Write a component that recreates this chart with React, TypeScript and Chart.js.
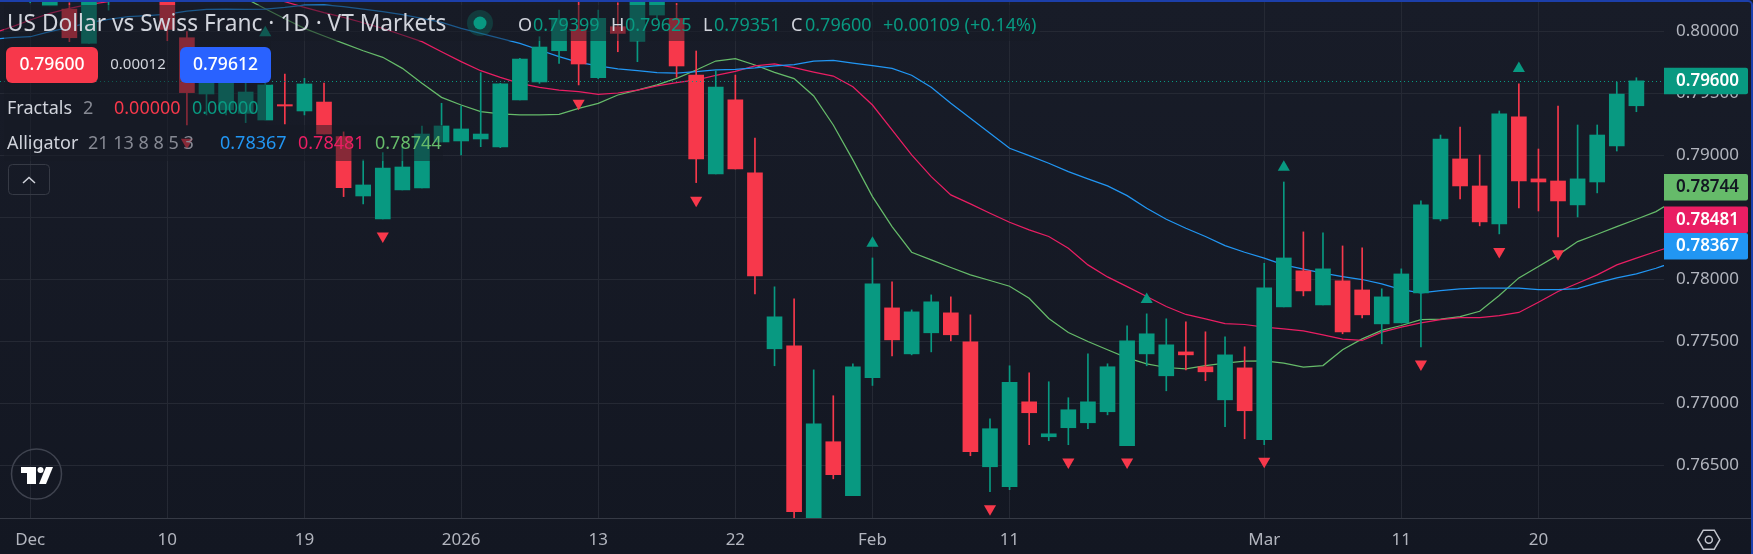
import React, { useEffect, useRef } from "react";
import { Chart, registerables } from "chart.js";

Chart.register(...registerables);

const firstBar = 0;
const opens = [.80279,.80206,.80179,.79903,.80319,.80400,.80400,.80273,.79948,.79494,.79365,.79338,.79284,.79408,.79357,.79429,.79150,.78671,.78486,.78720,.78736,.79107,.79115,.79131,.79067,.79446,.79591,.79843,.80015,.79626,.80037,.79921,.80131,.80104,.79647,.78849,.79446,.78857,.77438,.77462,.76000,.76688,.76252,.77204,.77768,.77397,.77567,.77728,.77494,.76486,.76325,.77010,.76728,.76801,.76841,.76930,.76656,.77397,.77220,.77413,.77293,.77026,.77284,.76704,.77776,.78067,.77792,.77986,.77913,.77639,.77647,.77889,.78486,.78970,.78752,.78446,.79309,.78809,.78792,.78599,.78784,.79075,.79399];
const closes = [.80413,.80333,.79948,.80265,.80400,.80500,.80500,.80015,.79505,.79593,.79580,.79510,.79567,.79397,.79575,.79171,.78739,.78760,.78897,.78905,.79171,.79236,.79212,.79171,.79575,.79776,.79873,.80104,.79736,.80104,.79983,.80265,.80265,.79720,.78970,.79550,.78889,.78026,.77696,.76123,.76833,.76422,.77293,.77962,.77510,.77736,.77817,.77551,.76607,.76793,.77167,.76922,.76752,.76946,.77010,.77293,.77502,.77559,.77470,.77389,.77252,.77389,.76938,.77930,.78171,.77905,.78083,.77575,.77712,.77857,.78042,.78599,.79131,.78752,.78462,.79333,.78792,.78784,.78631,.78809,.79163,.79494,.79600];
const highs = [.80467,.80360,.80230,.80306,.80420,.80550,.80550,.80320,.79997,.79647,.79634,.79580,.79580,.79655,.79620,.79583,.79188,.78962,.79021,.79069,.79236,.79419,.79397,.79666,.79580,.79782,.79956,.80171,.80252,.80171,.80230,.80300,.80310,.80225,.79841,.79682,.79647,.79139,.77938,.77841,.77268,.77059,.77317,.78171,.77978,.77752,.77873,.77857,.77712,.76873,.77301,.77244,.77172,.77043,.77397,.77317,.77623,.77720,.77680,.77655,.77575,.77534,.77454,.78128,.78784,.78381,.78373,.78268,.78252,.77922,.78083,.78631,.79163,.79228,.79002,.79357,.79575,.79050,.79397,.79244,.79244,.79591,.79625];
const lows = [.80230,.80206,.79916,.79903,.80171,.80300,.80300,.79924,.79244,.79325,.79325,.79263,.79284,.79252,.79325,.79171,.78666,.78607,.78486,.78720,.78736,.79107,.79002,.79069,.79061,.79446,.79580,.79741,.79567,.79618,.79835,.79755,.80091,.79628,.78779,.78849,.78889,.77881,.77301,.76075,.75980,.76389,.76252,.77142,.77381,.77389,.77413,.77502,.76575,.76285,.76301,.76664,.76696,.76664,.76793,.76905,.76656,.77301,.77099,.77268,.77180,.76809,.76712,.76664,.77776,.77865,.77792,.77559,.77688,.77478,.77647,.77454,.78470,.78647,.78430,.78365,.78575,.78550,.78341,.78502,.78696,.79034,.79351];

const lineFirstBar = -2;
const jaw = [.79935,.79948,.79956,.79997,.80032,.80069,.80096,.80118,.80126,.80139,.80163,.80177,.80179,.80177,.80179,.80193,.80212,.80214,.80198,.80179,.80158,.80134,.80104,.80072,.80024,.79983,.79943,.79903,.79849,.79795,.79749,.79720,.79696,.79682,.79666,.79663,.79674,.79688,.79693,.79704,.79720,.79731,.79760,.79765,.79744,.79722,.79701,.79645,.79548,.79419,.79298,.79177,.79056,.78997,.78935,.78868,.78809,.78752,.78674,.78572,.78483,.78411,.78344,.78271,.78217,.78169,.78115,.78080,.78048,.78021,.77997,.77962,.77916,.77889,.77908,.77921,.77928,.77928,.77928,.77916,.77916,.77924,.77970,.78010,.78042,.78088,.78142];
const teeth = [.79978,.80032,.80091,.80144,.80185,.80217,.80239,.80274,.80306,null,null,null,null,.80306,.80274,.80239,.80193,.80150,.80112,.80069,.80024,.79970,.79916,.79835,.79755,.79682,.79628,.79580,.79548,.79526,.79513,.79491,.79502,.79526,.79559,.79586,.79607,.79645,.79677,.79720,.79736,.79706,.79671,.79639,.79553,.79405,.79204,.79002,.78827,.78680,.78607,.78532,.78459,.78397,.78344,.78249,.78115,.78018,.77940,.77860,.77779,.77715,.77680,.77642,.77634,.77612,.77599,.77583,.77551,.77516,.77505,.77572,.77612,.77647,.77674,.77690,.77690,.77706,.77731,.77814,.77900,.77967,.78034,.78115,.78169,.78223,.78276];
const lips = [null,null,null,null,null,null,null,null,null,null,null,null,.80333,.80265,.80182,.80101,.80024,.79962,.79903,.79843,.79790,.79701,.79580,.79467,.79405,.79352,.79333,.79325,.79325,.79330,.79378,.79419,.79486,.79526,.79567,.79620,.79688,.79760,.79779,.79728,.79669,.79618,.79478,.79244,.78962,.78666,.78424,.78217,.78155,.78094,.78034,.77989,.77943,.77846,.77682,.77569,.77497,.77430,.77365,.77317,.77287,.77276,.77303,.77322,.77338,.77341,.77322,.77290,.77303,.77430,.77518,.77586,.77626,.77674,.77677,.77698,.77741,.77868,.78010,.78102,.78196,.78303,.78362,.78424,.78483,.78545,.78639];

const fractalUpBars = [12, 43, 57, 64, 76];
const fractalUpPrices = [.79988, .78289, .77835, .78902, .79700];
const fractalDownBars = [8, 18, 28, 34, 49, 53, 56, 63, 71, 75, 78];
const fractalDownPrices = [.79105, .78349, .79419, .78637, .76148, .76524, .76524, .76530, .77315, .78223, .78204];

const xTickBars = [0, 7, 14, 22, 29, 36, 43, 50, 63, 70, 77];
const xTickLabels = ["Dec", "10", "19", "2026", "13", "22", "Feb", "11", "Mar", "11", "20"];
const yTicks = [0.765, 0.77, 0.775, 0.78, 0.785, 0.79, 0.795, 0.8];
const yMin = 0.760726;
const yMax = 0.802363;

const lastClose = 0.796;
const lastJaw = 0.78367;
const lastTeeth = 0.78481;
const lastLips = 0.78744;

const GREEN = "#089981";
const RED = "#f7384b";
const JAW = "#2196f3";
const TEETH = "#e91e63";
const LIPS = "#66bb6a";
const TXT = "#d1d4dc";
const GREY = "#868993";
const FONT = '"Noto Sans"';

const W = 1753;
const H = 554;

const overlayPlugin = {
  id: "overlay",
  beforeDraw(chart: any) {
    const c = chart.ctx;
    const g = c.createLinearGradient(0, 0, 0, H);
    g.addColorStop(0, "#181c28");
    g.addColorStop(1, "#131722");
    c.save();
    c.fillStyle = g;
    c.fillRect(0, 0, W, H);
    c.restore();
  },
  afterDatasetsDraw(chart: any) {
    const c = chart.ctx;
    const y = chart.scales.y;
    const area = chart.chartArea;
    c.save();
    // last price dotted line
    c.strokeStyle = GREEN;
    c.lineWidth = 1;
    c.setLineDash([1, 3]);
    const ly = Math.round(y.getPixelForValue(lastClose)) + 0.5;
    c.beginPath();
    c.moveTo(0, ly);
    c.lineTo(area.right, ly);
    c.stroke();
    c.setLineDash([]);

    // translucent legend rows
    c.fillStyle = "rgba(21,25,36,0.5)";
    c.fillRect(4, 5, 1036, 36);
    c.fillRect(4, 41, 267, 44);
    c.fillRect(4, 85, 262, 40);
    c.fillRect(4, 125, 439, 36);

    const text = (s: string, x: number, yy: number, col: string, size = 18, weight = "400", align = "left") => {
      c.font = `${weight} ${size}px ${FONT}`;
      c.fillStyle = col;
      c.textAlign = align;
      c.textBaseline = "middle";
      c.fillText(s, x, yy);
    };

    text("US Dollar vs Swiss Franc · 1D · VT Markets", 7, 25, TXT, 22.7);
    c.fillStyle = "rgba(8,153,129,0.25)";
    c.beginPath();
    c.arc(480, 23, 13, 0, Math.PI * 2);
    c.fill();
    c.fillStyle = GREEN;
    c.beginPath();
    c.arc(480, 23, 6.5, 0, Math.PI * 2);
    c.fill();

    text("O", 518, 26, TXT);
    text(opens[opens.length - 1].toFixed(5), 533, 26, GREEN);
    text("H", 611, 26, TXT);
    text(highs[highs.length - 1].toFixed(5), 625, 26, GREEN);
    text("L", 703, 26, TXT);
    text(lows[lows.length - 1].toFixed(5), 714, 26, GREEN);
    text("C", 791, 26, TXT);
    text(closes[closes.length - 1].toFixed(5), 805, 26, GREEN);
    text("+0.00109 (+0.14%)", 883, 26, GREEN);

    // bid / ask pills
    c.fillStyle = RED;
    c.beginPath();
    c.roundRect(6, 47, 92, 36, 6);
    c.fill();
    text("0.79600", 52, 65, "#ffffff", 17.5, "500", "center");
    text("0.00012", 138, 65, TXT, 15, "400", "center");
    c.fillStyle = "#2962ff";
    c.beginPath();
    c.roundRect(180, 47, 91, 36, 6);
    c.fill();
    text("0.79612", 225.5, 65, "#ffffff", 17.5, "500", "center");

    text("Fractals", 7, 108.5, TXT);
    text("2", 83, 108.5, GREY);
    text("0.00000", 114, 108.5, RED);
    text("0.00000", 192, 108.5, GREEN);

    text("Alligator", 7, 144, TXT);
    text("21 13 8 8 5 3", 88, 144, GREY);
    text(lastJaw.toFixed(5), 220, 144, JAW);
    text(lastTeeth.toFixed(5), 298, 144, TEETH);
    text(lastLips.toFixed(5), 375, 144, LIPS);

    // collapse button
    c.strokeStyle = "#363a45";
    c.lineWidth = 1;
    c.beginPath();
    c.roundRect(8.5, 164.5, 41, 30, 4);
    c.stroke();
    c.strokeStyle = TXT;
    c.lineWidth = 1.5;
    c.beginPath();
    c.moveTo(23, 183);
    c.lineTo(29, 177.5);
    c.lineTo(35, 183);
    c.stroke();

    // logo
    c.strokeStyle = "#3f434f";
    c.lineWidth = 1.5;
    c.beginPath();
    c.arc(36.5, 474, 25, 0, Math.PI * 2);
    c.stroke();
    c.fillStyle = "#ffffff";
    c.fillRect(21, 467, 15, 6);
    c.fillRect(27, 467, 9, 17);
    c.beginPath();
    c.arc(40.5, 470, 3, 0, Math.PI * 2);
    c.fill();
    c.beginPath();
    c.moveTo(46, 467);
    c.lineTo(53, 467);
    c.lineTo(46, 484);
    c.lineTo(39, 484);
    c.closePath();
    c.fill();

    // axis line
    c.fillStyle = "#363a45";
    c.fillRect(0, 518, 1751, 1);

    // price tags
    const tag = (val: number, cy: number, bg: string, fg: string) => {
      c.fillStyle = bg;
      c.beginPath();
      c.roundRect(area.right, cy - 13, 84, 26.5, [0, 2, 2, 0]);
      c.fill();
      text(val.toFixed(5), area.right + 12, cy + 0.5, fg, 17, "600");
    };
    const order = [
      { v: lastLips, bg: LIPS, fg: "#131722" },
      { v: lastTeeth, bg: TEETH, fg: "#ffffff" },
      { v: lastJaw, bg: JAW, fg: "#ffffff" },
    ];
    let prevBottom = -Infinity;
    order.forEach((t) => {
      const cy = Math.max(y.getPixelForValue(t.v), prevBottom + 13.5);
      tag(t.v, cy, t.bg, t.fg);
      prevBottom = cy + 13;
    });
    tag(lastClose, y.getPixelForValue(lastClose), GREEN, "#ffffff");

    // settings icon
    c.strokeStyle = "#c3c6ce";
    c.lineWidth = 1.5;
    const hx = 1708.8, hy = 539.7;
    c.beginPath();
    c.moveTo(hx - 11, hy);
    c.lineTo(hx - 5.5, hy - 9.5);
    c.lineTo(hx + 5.5, hy - 9.5);
    c.lineTo(hx + 11, hy);
    c.lineTo(hx + 5.5, hy + 9.5);
    c.lineTo(hx - 5.5, hy + 9.5);
    c.closePath();
    c.stroke();
    c.beginPath();
    c.arc(hx, hy, 3.5, 0, Math.PI * 2);
    c.stroke();

    // window frame
    c.strokeStyle = "#1c3faa";
    c.lineWidth = 2;
    c.beginPath();
    c.moveTo(0, 1);
    c.lineTo(1748, 1);
    c.arcTo(1752, 1, 1752, 5, 4);
    c.lineTo(1752, H);
    c.stroke();
    c.restore();
  },
};

export default function App() {
  const ref = useRef<HTMLCanvasElement>(null);
  useEffect(() => {
    document.body.style.margin = "0";
    document.body.style.background = "#131722";
    const bars = opens.map((_, i) => i + firstBar);
    const colours = opens.map((o, i) => (closes[i] >= o ? GREEN : RED));
    const lineData = (vals: (number | null)[]) => vals.map((v, i) => ({ x: i + lineFirstBar, y: v }));
    const lineDs = (label: string, vals: (number | null)[], col: string) => ({
      type: "line",
      label,
      data: lineData(vals),
      borderColor: col,
      borderWidth: 1.25,
      pointRadius: 0,
      tension: 0,
      order: 5,
      spanGaps: false,
    });
    const noPad = (s: any) => {
      s.paddingTop = 0;
      s.paddingBottom = 0;
      s.paddingLeft = 0;
      s.paddingRight = 0;
      if (s._margins) s._margins = { left: 0, right: 0, top: 0, bottom: 0 };
    };
    const chart = new Chart(ref.current as HTMLCanvasElement, {
      type: "bar",
      data: {
        datasets: [
          lineDs("Jaw", jaw, JAW),
          lineDs("Teeth", teeth, TEETH),
          lineDs("Lips", lips, LIPS),
          {
            label: "Wick",
            data: bars.map((b, i) => ({ x: b, y: [lows[i], highs[i]] })),
            backgroundColor: colours,
            barThickness: 1,
            grouped: false,
            order: 3,
          },
          {
            label: "Body",
            data: bars.map((b, i) => ({ x: b, y: [opens[i], closes[i]] })),
            backgroundColor: colours,
            barThickness: 15,
            grouped: false,
            order: 2,
          },
          {
            type: "scatter",
            label: "Up fractal",
            data: fractalUpBars.map((b, i) => ({ x: b, y: fractalUpPrices[i] })),
            pointStyle: "triangle",
            pointRadius: 7,
            pointBackgroundColor: GREEN,
            pointBorderWidth: 0,
            order: 1,
          },
          {
            type: "scatter",
            label: "Down fractal",
            data: fractalDownBars.map((b, i) => ({ x: b, y: fractalDownPrices[i] })),
            pointStyle: "triangle",
            pointRotation: 180,
            pointRadius: 7,
            pointBackgroundColor: RED,
            pointBorderWidth: 0,
            order: 1,
          },
        ] as any,
      },
      options: {
        responsive: false,
        animation: false,
        devicePixelRatio: 1,
        layout: { autoPadding: false, padding: { top: 2, left: 0, right: 0, bottom: 0 } },
        plugins: { legend: { display: false }, tooltip: { enabled: false }, title: { display: false } },
        scales: {
          x: {
            type: "linear",
            offset: false,
            min: -1.542,
            max: 83.41,
            grid: { color: "#252934", drawTicks: false, lineWidth: 1, offset: false },
            border: { display: false },
            afterBuildTicks: (s: any) => {
              s.ticks = xTickBars.map((v) => ({ value: v }));
            },
            ticks: {
              autoSkip: false,
              maxRotation: 0,
              padding: 12,
              color: "#b2b5be",
              font: { family: FONT, size: 17 },
              callback: (v: any) => xTickLabels[xTickBars.indexOf(v)] ?? "",
            },
            afterFit: (s: any) => {
              s.height = 36;
              noPad(s);
            },
          },
          y: {
            type: "linear",
            position: "right",
            beginAtZero: false,
            bounds: "data",
            grace: 0,
            min: yMin,
            max: yMax,
            grid: { color: "#252934", drawTicks: false, lineWidth: 1 },
            border: { display: false },
            afterBuildTicks: (s: any) => {
              s.ticks = yTicks.map((v) => ({ value: v }));
              s.min = yMin;
              s.max = yMax;
            },
            ticks: {
              autoSkip: false,
              padding: 12,
              color: "#b2b5be",
              font: { family: FONT, size: 17 },
              callback: (v: any) => Number(v).toFixed(5),
            },
            afterFit: (s: any) => {
              s.width = 89;
              noPad(s);
            },
          },
        },
      } as any,
      plugins: [overlayPlugin],
    } as any);
    return () => chart.destroy();
  }, []);
  return <canvas ref={ref} width={W} height={H} style={{ display: "block", width: W, height: H }} />;
}
